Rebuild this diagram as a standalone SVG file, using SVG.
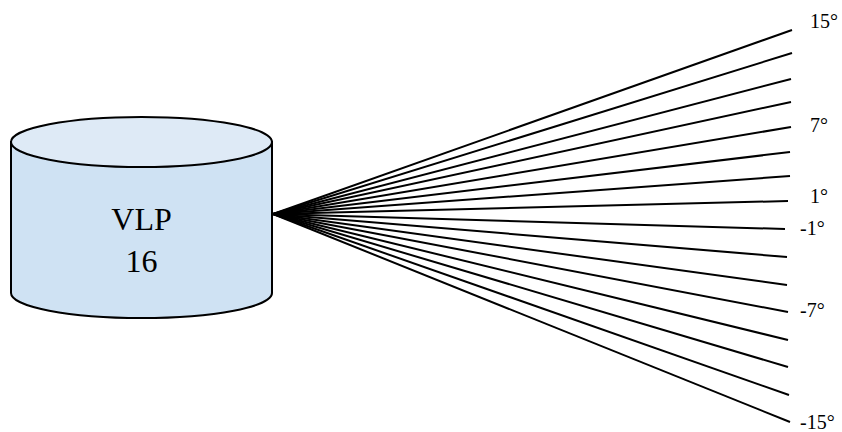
<svg xmlns="http://www.w3.org/2000/svg" width="842" height="432" viewBox="0 0 842 432">
<style>
.lbl{font-family:"Liberation Serif","DejaVu Serif",serif;font-size:20px;fill:#000}
.big{font-family:"Liberation Serif","DejaVu Serif",serif;font-size:32px;fill:#000;text-anchor:middle}
.ray{stroke:#000;stroke-width:2;fill:none}
</style>
<rect width="842" height="432" fill="#fff"/>
<g id="vlp16">
<path d="M11,142 L11,293 A130.5,25 0 0 0 272,293 L272,142 Z" fill="#cfe2f3" stroke="#000" stroke-width="2"/>
<ellipse cx="141.5" cy="142" rx="130.5" ry="25" fill="#deeaf6" stroke="#000" stroke-width="2"/>
<text class="big" x="141.5" y="230">VLP</text>
<text class="big" x="141.5" y="272">16</text>
</g>
<g id="connectors">
<line class="ray" x1="273" y1="214" x2="792" y2="30"/>
<line class="ray" x1="273" y1="214" x2="792" y2="53"/>
<line class="ray" x1="273" y1="214" x2="791" y2="79"/>
<line class="ray" x1="273" y1="214" x2="791" y2="102"/>
<line class="ray" x1="273" y1="214" x2="791" y2="127"/>
<line class="ray" x1="273" y1="214" x2="790" y2="152"/>
<line class="ray" x1="273" y1="214" x2="790" y2="176"/>
<line class="ray" x1="273" y1="214" x2="788" y2="201"/>
<line class="ray" x1="273" y1="214" x2="785" y2="229"/>
<line class="ray" x1="273" y1="214" x2="787" y2="257"/>
<line class="ray" x1="273" y1="214" x2="787" y2="285"/>
<line class="ray" x1="273" y1="214" x2="788" y2="312"/>
<line class="ray" x1="273" y1="214" x2="788" y2="340"/>
<line class="ray" x1="273" y1="214" x2="788" y2="367"/>
<line class="ray" x1="273" y1="214" x2="789" y2="395"/>
<line class="ray" x1="273" y1="214" x2="790" y2="422"/>
</g>
<g id="labels">
<text class="lbl" x="810" y="28">15°</text>
<text class="lbl" x="810" y="132">7°</text>
<text class="lbl" x="810" y="203">1°</text>
<text class="lbl" x="800" y="235">-1°</text>
<text class="lbl" x="800" y="317">-7°</text>
<text class="lbl" x="800" y="429">-15°</text>
</g>
</svg>
